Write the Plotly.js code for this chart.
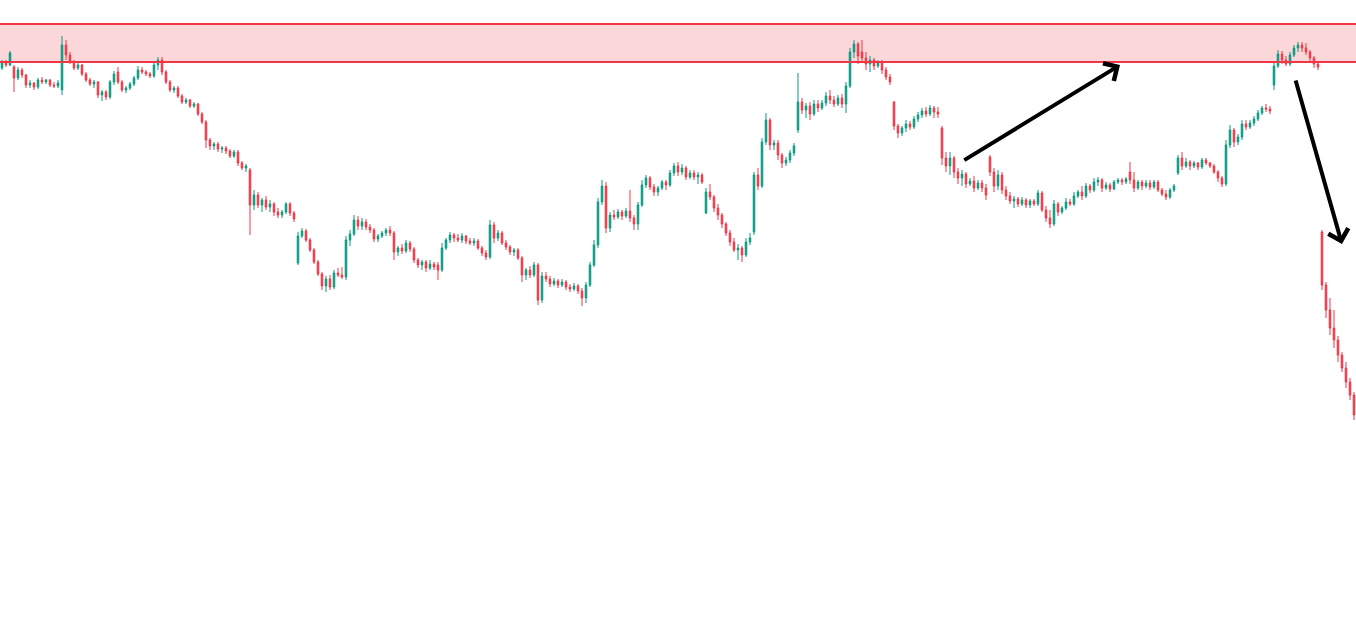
<!DOCTYPE html>
<html>
<head>
<meta charset="utf-8">
<script src="https://cdn.plot.ly/plotly-3.0.1.min.js"></script>
<style>
html,body{margin:0;padding:0;background:#ffffff;overflow:hidden;}
#chart{width:1356px;height:626px;}
</style>
</head>
<body>
<div id="chart"></div>
<script>
// OHLC values (price units), one entry per candle, oldest first
const open = [
932,938,935,933,922,930,925,915,917,913, 920,918,920,915,914,910,955,945,938,932,
935,926,920,916,918,905,908,903,918,928, 918,910,912,916,922,930,928,926,924,935,
940,928,918,910,912,904,898,900,894,896, 886,878,860,854,856,851,852,849,844,848,
837,832,830,795,805,795,800,793,796,788, 785,788,796,787,737,764,769,760,750,738,
726,714,721,713,727,725,723,760,766,780, 774,778,773,770,761,764,767,770,767,748,
752,749,757,751,740,735,738,732,736,735, 730,752,760,765,762,760,764,759,757,759,
752,747,743,775,762,767,757,753,748,750, 742,725,730,725,735,700,724,721,716,719,
715,718,713,711,714,709,702,715,735,755, 798,814,772,785,783,788,784,789,782,776,
795,815,822,813,808,812,818,815,827,834, 828,832,823,827,823,825,787,808,803,792,
785,776,767,758,750,752,745,758,768,825, 814,858,880,855,857,845,837,840,847,870,
898,890,894,886,896,892,897,904,900,896, 902,896,914,948,956,948,942,936,940,934,
938,930,923,898,874,867,872,876,873,881, 885,889,886,892,888,872,842,834,842,828,
822,826,816,819,812,817,812,843,828,814, 825,810,804,799,801,796,800,795,799,796,
807,790,782,776,796,788,792,798,796,804, 808,804,814,810,818,820,812,815,811,818,
820,818,828,820,812,818,814,817,813,818, 810,806,803,810,827,842,834,838,834,837,
833,840,837,834,828,822,816,855,870,858, 863,876,873,877,881,887,892,891,915,934,
946,940,936,945,952,955,952,948,942,936, 768,715,690,672,660,645,632,618,605
];
const high = [
940,940,949,935,933,932,926,920,918,922, 923,921,921,918,920,964,960,948,940,937,
936,928,922,920,919,910,910,920,929,933, 920,914,918,924,934,933,930,928,938,943,
943,930,920,914,914,906,902,901,898,897, 888,880,862,858,858,854,854,851,850,850,
839,836,832,810,808,802,804,800,798,792, 790,798,798,789,768,772,771,762,752,740,
728,724,725,730,732,733,764,770,785,784, 782,781,776,772,766,769,772,774,769,754,
756,760,759,753,742,740,740,740,738,738, 757,762,768,767,766,767,765,762,762,761,
754,750,780,778,770,769,760,755,752,752, 744,732,734,738,737,728,728,724,722,721,
721,720,716,717,716,712,718,738,760,802, 820,818,788,790,791,790,792,810,785,798,
820,825,824,816,814,820,820,830,837,838, 836,834,830,830,828,827,812,816,805,796,
787,778,770,762,756,754,762,767,828,832, 862,887,882,860,860,847,843,850,857,927,
902,897,898,900,900,900,908,910,904,905, 906,918,952,960,958,960,948,944,942,940,
940,933,926,899,876,874,880,879,884,888, 892,893,895,894,893,874,848,848,844,832,
830,828,822,824,820,820,816,845,832,830, 828,814,808,804,803,803,802,801,801,810,
809,794,790,800,798,794,802,801,808,810, 814,817,816,822,823,822,818,817,820,822,
822,823,838,828,820,820,820,820,820,820, 812,810,812,816,845,848,842,840,839,838,
842,842,838,836,830,824,860,875,872,866, 880,880,880,884,890,894,896,894,938,950,
949,944,948,955,958,958,957,950,944,938, 770,718,702,690,664,648,638,622,608
];
const low = [
930,933,934,908,920,922,912,912,910,911, 916,916,913,912,912,905,940,936,930,930,
924,918,914,912,902,899,900,901,915,916, 908,907,910,914,920,926,924,922,922,930,
925,916,908,907,902,896,896,892,892,884, 876,852,850,850,848,847,846,842,842,834,
830,828,765,790,792,788,790,788,784,782, 782,786,784,778,735,762,758,748,736,724,
710,708,710,711,723,721,720,754,764,770, 770,770,767,758,758,762,764,764,740,744,
746,747,748,737,732,730,728,730,730,720, 728,750,757,758,758,757,756,755,754,750,
744,740,741,757,759,755,750,745,744,740, 718,720,722,723,695,697,718,713,714,712,
713,710,708,709,706,694,697,713,733,752, 795,767,768,780,781,780,782,778,770,770,
793,812,810,804,804,810,810,813,824,824, 825,820,821,820,816,816,786,800,788,780,
772,764,754,748,740,738,743,755,765,810, 812,855,850,850,840,832,834,837,844,867,
886,882,880,884,888,890,894,896,893,894, 892,887,912,942,936,938,930,928,930,932,
926,920,915,870,862,864,868,870,871,878, 882,883,884,882,882,835,828,825,822,816,
814,812,814,808,810,808,800,824,808,810, 806,800,796,792,793,794,792,792,794,794,
788,778,772,774,784,786,790,794,794,802, 800,802,807,808,814,808,810,808,810,816,
815,816,816,808,810,810,812,810,811,808, 804,800,801,808,825,830,832,830,832,830,
831,835,832,826,818,813,814,852,853,855, 860,870,871,874,879,885,888,886,910,932,
936,934,934,943,948,948,945,938,932,930, 710,682,665,652,638,628,612,600,580
];
const close = [
938,935,947,922,930,925,915,917,913,920, 918,920,915,914,917,955,945,938,932,935,
926,920,916,918,905,908,903,918,926,918, 910,912,916,922,930,928,926,924,935,940,
928,918,910,912,904,898,900,894,896,886, 878,860,854,856,851,852,849,844,848,837,
832,834,795,805,795,800,793,796,788,785, 788,796,787,781,764,769,760,750,738,726,
714,721,713,727,725,723,760,766,780,774, 778,773,770,761,764,767,770,767,748,752,
749,757,751,740,735,738,732,736,733,730, 752,760,765,762,760,764,759,757,759,752,
747,743,775,762,767,757,753,748,750,742, 725,730,725,735,700,724,721,716,719,715,
718,713,711,714,709,702,715,735,755,798, 814,772,785,783,788,784,789,782,776,795,
815,822,813,808,812,818,815,827,834,828, 832,823,827,823,825,818,808,803,792,785,
776,767,758,750,752,745,758,762,825,814, 858,880,855,857,845,837,840,847,854,898,
890,894,886,896,892,897,904,900,896,902, 896,914,948,956,944,942,936,940,934,938,
930,923,918,874,867,872,876,873,881,885, 889,886,892,888,886,842,834,842,828,822,
826,816,819,812,817,812,805,828,814,825, 810,804,799,801,796,800,795,799,796,807,
790,782,776,796,788,792,798,796,804,808, 804,814,810,818,820,812,815,811,818,820,
818,821,820,812,818,814,817,813,818,810, 806,803,810,814,842,834,838,834,837,833,
840,837,834,828,822,816,855,870,858,863, 876,873,877,881,887,892,891,889,934,946,
940,936,945,952,955,952,948,942,936,933, 715,690,672,660,645,632,618,605,585
];
// resistance zone (price units)
const zoneLow = 938;
const zoneHigh = 976;

const candleIndex = close.map((_, i) => i);

const RED = '#F23645';
const GREEN = '#089981';

const trace = {
  type: 'candlestick',
  x: candleIndex,
  open: open, high: high, low: low, close: close,
  increasing: {line: {color: GREEN, width: 1}, fillcolor: GREEN},
  decreasing: {line: {color: RED, width: 1}, fillcolor: RED},
  whiskerwidth: 0,
  hoverinfo: 'skip',
  showlegend: false
};

const n = close.length;
const layout = {
  width: 1356, height: 626,
  margin: {l: 0, r: 0, t: 0, b: 0, pad: 0},
  paper_bgcolor: '#ffffff', plot_bgcolor: '#ffffff',
  showlegend: false,
  boxgap: 0.45,
  xaxis: {range: [-0.5, n - 0.5], visible: false, showgrid: false, zeroline: false,
          rangeslider: {visible: false}, fixedrange: true},
  yaxis: {range: [374, 1000], visible: false, showgrid: false, zeroline: false, fixedrange: true},
  shapes: [
    {type: 'rect', xref: 'paper', yref: 'y', x0: 0, x1: 1, y0: zoneLow, y1: zoneHigh,
     fillcolor: 'rgba(242,54,69,0.2)', line: {width: 0}, layer: 'below'},
    {type: 'line', xref: 'paper', yref: 'y', x0: 0, x1: 1, y0: zoneHigh, y1: zoneHigh,
     line: {color: RED, width: 2}},
    {type: 'line', xref: 'paper', yref: 'y', x0: 0, x1: 1, y0: zoneLow, y1: zoneLow,
     line: {color: RED, width: 2}}
  ],
  annotations: [
    {xref: 'x', yref: 'y', axref: 'x', ayref: 'y',
     x: 279.5, y: 935, ax: 240.2, ay: 839,
     text: '', showarrow: true, arrowhead: 4, arrowsize: 1, arrowwidth: 4,
     arrowcolor: '#000000', standoff: 0, startstandoff: 0},
    {xref: 'x', yref: 'y', axref: 'x', ayref: 'y',
     x: 335, y: 756, ax: 323.3, ay: 921,
     text: '', showarrow: true, arrowhead: 4, arrowsize: 1, arrowwidth: 4,
     arrowcolor: '#000000', standoff: 0, startstandoff: 0}
  ]
};

Plotly.newPlot('chart', [trace], layout, {staticPlot: true, displayModeBar: false});
</script>
</body>
</html>
